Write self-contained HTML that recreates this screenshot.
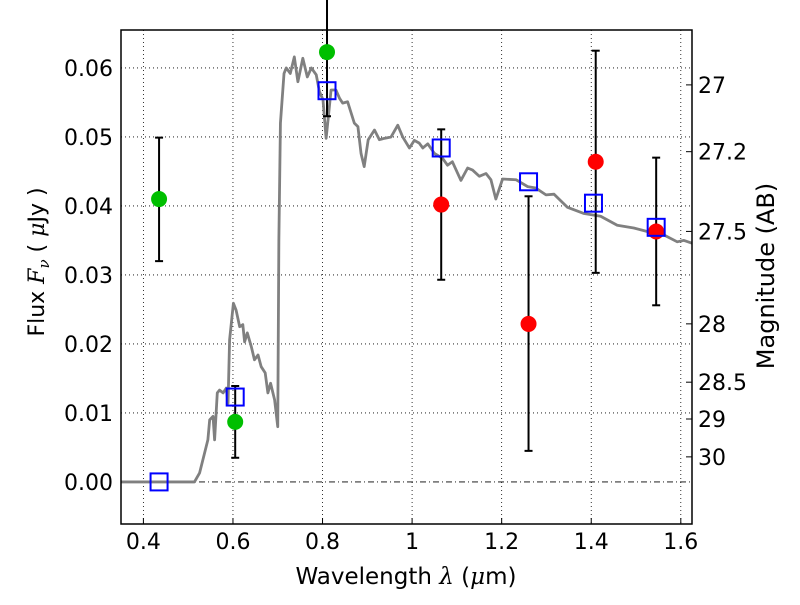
<!DOCTYPE html>
<html><head><meta charset="utf-8"><style>
body{margin:0;background:#fff}
svg text{font-family:"DejaVu Sans","Liberation Sans",sans-serif;fill:#000}
</style></head><body>
<svg id="chart" width="800" height="600" viewBox="0 0 800 600">
<g id="grid"></g>
<g id="curve"></g>
<g id="marks"></g>
<g id="axes"></g>
<text x="406" y="584" text-anchor="middle" font-size="23">Wavelength  <tspan font-style="italic" font-family="DejaVu Serif, serif">λ</tspan> (<tspan font-style="italic" font-family="DejaVu Serif, serif">μ</tspan>m)</text>
<text transform="translate(44,262) rotate(-90)" text-anchor="middle" font-size="22">Flux  <tspan font-style="italic" font-family="DejaVu Serif, serif">F</tspan><tspan font-style="italic" font-family="DejaVu Serif, serif" font-size="15" dy="5">ν</tspan><tspan dy="-5">  ( </tspan><tspan font-style="italic" font-family="DejaVu Serif, serif">μ</tspan>Jy )</text>
<text transform="translate(774,276) rotate(-90)" text-anchor="middle" font-size="24">Magnitude (AB)</text>
</svg>
<script>
const xTicks=[0.4,0.6,0.8,1.0,1.2,1.4,1.6];
const xTickLabels=["0.4","0.6","0.8","1","1.2","1.4","1.6"];
const yTicks=[0,0.01,0.02,0.03,0.04,0.05,0.06];
const yTickLabels=["0.00","0.01","0.02","0.03","0.04","0.05","0.06"];
const magTicks=[27,27.2,27.5,28,28.5,29,30];
const magTickLabels=["27","27.2","27.5","28","28.5","29","30"];
const specLam=[0.35,0.514,0.5255,0.544,0.548,0.5555,0.559,0.565,0.570,0.578,0.585,0.589,0.5925,0.601,0.607,0.615,0.622,0.626,0.632,0.641,0.648,0.656,0.663,0.672,0.678,0.684,0.693,0.700,0.7025,0.706,0.714,0.719,0.728,0.737,0.745,0.756,0.766,0.775,0.786,0.793,0.801,0.808,0.813,0.819,0.830,0.838,0.845,0.856,0.871,0.879,0.886,0.893,0.902,0.916,0.927,0.938,0.953,0.968,0.979,0.994,1.005,1.016,1.024,1.035,1.050,1.068,1.079,1.090,1.109,1.124,1.135,1.150,1.165,1.176,1.187,1.202,1.232,1.258,1.276,1.299,1.317,1.347,1.384,1.421,1.458,1.495,1.525,1.562,1.592,1.607,1.625];
const specFlux=[0,0,0.0013,0.0061,0.0090,0.0095,0.0061,0.0129,0.0133,0.0129,0.0136,0.0114,0.0206,0.0259,0.0249,0.0225,0.0228,0.0203,0.0216,0.0196,0.0177,0.0184,0.0167,0.0158,0.0129,0.0143,0.0119,0.0080,0.0351,0.0520,0.0592,0.0600,0.0592,0.0616,0.0580,0.0614,0.0587,0.0600,0.0590,0.0566,0.0554,0.0498,0.0529,0.0568,0.0568,0.0556,0.0549,0.0551,0.0520,0.0515,0.0476,0.0457,0.0496,0.0510,0.0496,0.0498,0.0500,0.0517,0.0500,0.0484,0.0495,0.0491,0.0484,0.0490,0.0476,0.0469,0.0459,0.0464,0.0437,0.0455,0.0452,0.0443,0.0447,0.0438,0.0410,0.0439,0.0438,0.0428,0.0426,0.0416,0.0417,0.0398,0.0389,0.0385,0.0372,0.0368,0.0363,0.0358,0.0348,0.0350,0.0346];
const greenLam=[0.435,0.605,0.81];
const greenFlux=[0.0410,0.0087,0.0623];
const greenLo=[0.0320,0.0035,0.0530];
const greenHi=[0.0499,0.0139,0.0700];
const redLam=[1.065,1.26,1.41,1.545];
const redFlux=[0.0402,0.0229,0.0464,0.0363];
const redLo=[0.0293,0.0045,0.0303,0.0256];
const redHi=[0.0511,0.0414,0.0625,0.0470];
const modelLam=[0.435,0.605,0.81,1.065,1.26,1.405,1.545];
const modelFlux=[0,0.0123,0.0567,0.0484,0.0435,0.0404,0.0369];

const L=121,R=692,T=30,B=524,X0=0.35,X1=1.625,Y0=-0.0061,Y1=0.0655;
const sx=v=>L+(v-X0)/(X1-X0)*(R-L);
const sy=v=>B-(v-Y0)/(Y1-Y0)*(B-T);
const NS="http://www.w3.org/2000/svg";
function mk(tag,attrs,parent,text){const e=document.createElementNS(NS,tag);for(const k in attrs)e.setAttribute(k,attrs[k]);if(text!==undefined)e.textContent=text;parent.appendChild(e);return e;}
const grid=document.getElementById('grid'),curve=document.getElementById('curve'),marks=document.getElementById('marks'),axes=document.getElementById('axes');

xTicks.forEach((t,i)=>{
 const g=mk('line',{x1:sx(t),x2:sx(t),y1:T,y2:B,stroke:'#000','stroke-width':0.8,'stroke-dasharray':'1,3'},grid);
 
 
 const tk=mk('line',{x1:sx(t),x2:sx(t),y1:B,y2:B-6,stroke:'#000'},axes);
 
 
 const lb=mk('text',{x:sx(t),y:B+25,'text-anchor':'middle','font-size':22},axes,xTickLabels[i]);
 
 
});
yTicks.forEach((t,i)=>{
 const g=mk('line',{x1:L,x2:R,y1:sy(t),y2:sy(t),stroke:'#000','stroke-width':0.8,'stroke-dasharray':t===0?'6,3,1,3':'1,3'},grid);
 
 
 const lb=mk('text',{x:L-8,y:sy(t)+8,'text-anchor':'end','font-size':22},axes,yTickLabels[i]);
 
 
});
magTicks.forEach((m,i)=>{
 const f=Math.pow(10,(23.9-m)/2.5);
 const tk=mk('line',{x1:R,x2:R-6,y1:sy(f),y2:sy(f),stroke:'#000'},axes);
 
 
 const lb=mk('text',{x:R+6,y:sy(f)+8,'font-size':22},axes,magTickLabels[i]);
 
 
});

const p=mk('polyline',{points:specLam.map((l,i)=>sx(l)+','+sy(specFlux[i])).join(' '),fill:'none',stroke:'#808080','stroke-width':2.8,'stroke-linejoin':'round'},curve);



function errbar(l,lo,hi){
 const g=mk('g',{stroke:'#000','stroke-width':2},marks);
 
 
 const x=sx(l),ylo=sy(lo),yhi=sy(hi);
 mk('line',{x1:x,x2:x,y1:ylo,y2:yhi},g);
 mk('line',{x1:x-4,x2:x+4,y1:ylo,y2:ylo},g);
 mk('line',{x1:x-4,x2:x+4,y1:yhi,y2:yhi},g);
}
greenLam.forEach((l,i)=>errbar(l,greenLo[i],greenHi[i]));
redLam.forEach((l,i)=>errbar(l,redLo[i],redHi[i]));
greenLam.forEach((l,i)=>{
 const c=mk('circle',{cx:sx(l),cy:sy(greenFlux[i]),r:8,fill:'#00bf00'},marks);
 
 
});
redLam.forEach((l,i)=>{
 const c=mk('circle',{cx:sx(l),cy:sy(redFlux[i]),r:8,fill:'#ff0000'},marks);
 
 
});
modelLam.forEach((l,i)=>{
 const r=mk('rect',{x:sx(l)-8.5,y:sy(modelFlux[i])-8.5,width:17,height:17,fill:'none',stroke:'#0000ff','stroke-width':2},marks);
 
 
});

const fr=mk('rect',{x:L,y:T,width:R-L,height:B-T,fill:'none',stroke:'#000','stroke-width':1.5},axes);


</script>
</body></html>
